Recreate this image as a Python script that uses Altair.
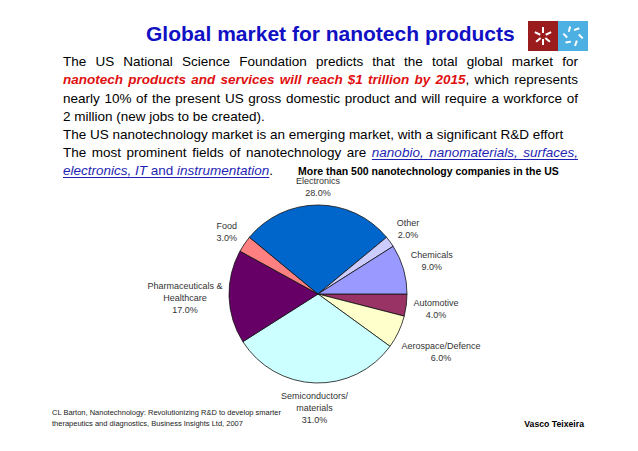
import math
import altair as alt
import pandas as pd

# ---------------- data ----------------
sectors = ["Automotive", "Aerospace/Defence", "Semiconductors/materials",
           "Pharmaceuticals & Healthcare", "Food", "Electronics", "Other", "Chemicals"]
label_names = ["Automotive", "Aerospace/Defence", "Semiconductors/\nmaterials",
               "Pharmaceuticals &\nHealthcare", "Food", "Electronics", "Other", "Chemicals"]
shares = [4.0, 6.0, 31.0, 17.0, 3.0, 28.0, 2.0, 9.0]
sector_colors = ["#993366", "#FFFFCC", "#CCFFFF", "#660066", "#FF8080",
                 "#0066CC", "#CCCCFF", "#9999FF"]

title_text = "Global market for nanotech products"
subnote_text = "More than 500 nanotechnology companies in the US"
source_text = ("CL Barton, Nanotechnology: Revolutionizing R&D to develop smarter\n"
               "therapeutics and diagnostics, Business  Insights Ltd, 2007")
author_text = "Vasco Teixeira"

body_lines = [
    ([("The US National Science Foundation predicts that the total global market for", "normal")], True),
    ([("nanotech products and services will reach $1 trillion by 2015", "red"),
      (", which represents", "normal")], True),
    ([("nearly 10% of the present US gross domestic product and will require a workforce of", "normal")], True),
    ([("2 million (new jobs to be created).", "normal")], False),
    ([("The US nanotechnology market is an emerging market, with a significant R&D effort", "normal")], False),
    ([("The most prominent fields of nanotechnology are ", "normal"),
      ("nanobio, nanomaterials, surfaces,", "link")], True),
    ([("electronics, IT", "link"), (" and ", "linkplain"), ("instrumentation", "link"),
      (".", "normal")], False),
]

# ---------------- helpers (Arial / Liberation Sans metrics) ----------------
FONT = "Liberation Sans"
REG = dict(zip("abcdefghijklmnopqrstuvwxyz",
               [556, 556, 500, 556, 556, 278, 556, 556, 222, 222, 500, 222, 833,
                556, 556, 556, 556, 333, 500, 278, 556, 500, 722, 500, 500, 500]))
REG.update(zip("ABCDEFGHIJKLMNOPQRSTUVWXYZ",
               [667, 667, 722, 722, 667, 611, 778, 722, 278, 500, 667, 556, 833,
                722, 778, 667, 778, 722, 667, 611, 722, 667, 944, 667, 667, 611]))
REG.update({c: 556 for c in "0123456789"})
REG.update({" ": 278, ",": 278, ".": 278, "/": 278, ":": 278, "(": 333, ")": 333,
            "%": 889, "&": 667, "$": 556, "-": 333})
BOLD = dict(zip("abcdefghijklmnopqrstuvwxyz",
                [556, 611, 556, 611, 556, 333, 611, 611, 278, 278, 556, 278, 889,
                 611, 611, 611, 611, 389, 556, 333, 611, 556, 778, 556, 556, 500]))
BOLD.update(zip("ABCDEFGHIJKLMNOPQRSTUVWXYZ",
                [722, 722, 722, 722, 667, 611, 778, 722, 278, 556, 722, 611, 833,
                 722, 778, 667, 778, 722, 667, 611, 722, 667, 944, 667, 667, 611]))
BOLD.update({c: 556 for c in "0123456789"})
BOLD.update({" ": 278, ",": 278, ".": 278, "/": 278, ":": 333, "(": 333, ")": 333,
             "%": 889, "&": 722, "$": 556, "-": 333})


def tw(s, bold, size):
    t = BOLD if bold else REG
    return sum(t.get(ch, 556) for ch in s) * size / 1000.0


STY = {
    "normal": dict(bold=False, italic=False, color="#000000", ul=False),
    "red": dict(bold=True, italic=True, color="#E01010", ul=False),
    "link": dict(bold=False, italic=True, color="#1F1FB4", ul=True),
    "linkplain": dict(bold=False, italic=False, color="#1F1FB4", ul=True),
}

# ---------------- body text layout (justified like the slide) ----------------
BODY_SIZE = 13.5
X0, X1 = 55, 570
LINE_Y = [54, 72, 91, 109, 127, 145, 163]
rows, ul_rows = [], []
for (runs, justify), y in zip(body_lines, LINE_Y):
    words = [[]]
    for text, st in runs:
        parts = text.split(" ")
        for i, p in enumerate(parts):
            if i > 0:
                words.append([])
            if p:
                words[-1].append((p, st))
    words = [w for w in words if w]
    widths = [sum(tw(f, STY[s]["bold"], BODY_SIZE) for f, s in w) for w in words]
    space = tw(" ", False, BODY_SIZE)
    gap = (X1 - X0 - sum(widths)) / (len(words) - 1) if justify else space
    x = X0
    last_ul = False
    for w, wd in zip(words, widths):
        for j, (f, s) in enumerate(w):
            fw = tw(f, STY[s]["bold"], BODY_SIZE)
            rows.append(dict(x=x, y=y, text=f, style=s))
            cur_ul = STY[s]["ul"]
            if cur_ul and last_ul:
                ul_rows[-1]["x2"] = x + fw
            elif cur_ul:
                ul_rows.append(dict(x=x, x2=x + fw, y=y + 6.5))
            last_ul = cur_ul
            x += fw
        x += gap
body_df = pd.DataFrame(rows)
ul_df = pd.DataFrame(ul_rows)


def body_layer(style):
    st = STY[style]
    return alt.Chart(body_df[body_df["style"] == style]).mark_text(
        align="left", baseline="middle", font=FONT, fontSize=BODY_SIZE,
        fontWeight="bold" if st["bold"] else "normal",
        fontStyle="italic" if st["italic"] else "normal",
        color=st["color"],
    ).encode(x=alt.X("x:Q", scale=None), y=alt.Y("y:Q", scale=None), text="text:N")


underlines = alt.Chart(ul_df).mark_rule(color="#1F1FB4", strokeWidth=1).encode(
    x=alt.X("x:Q", scale=None), x2="x2:Q", y=alt.Y("y:Q", scale=None))

# ---------------- pie ----------------
CX, CY, R = 310, 286, 89
LAB_SIZE, LAB_LH, GAP = 9, 12, 6
lab_text, lab_r, lab_n = [], [], []
cum = 0.0
for name, v in zip(label_names, shares):
    mid = math.radians(90 + (cum + v / 2) * 3.6)
    cum += v
    lines = name.split("\n") + [f"{v:.1f}%"]
    halfw = max(tw(l, False, LAB_SIZE) for l in lines) / 2
    halfh = len(lines) * LAB_LH / 2
    lab_r.append(R + GAP + halfw * abs(math.sin(mid)) + halfh * abs(math.cos(mid)))
    lab_text.append("\n".join(lines))
    lab_n.append(len(lines))

pie_df = pd.DataFrame({"sector": sectors, "share": shares, "idx": list(range(len(sectors))),
                       "label": lab_text, "lr": lab_r, "nl": lab_n})
theta_scale = alt.Scale(domain=[0, 100], range=[math.pi / 2, math.pi / 2 + 2 * math.pi])
arcs = alt.Chart(pie_df).mark_arc(outerRadius=R, stroke="#111111", strokeWidth=0.8,
                                  x=CX, y=CY).encode(
    theta=alt.Theta("share:Q", stack=True, scale=theta_scale),
    color=alt.Color("sector:N", scale=alt.Scale(domain=sectors, range=sector_colors), legend=None),
    order=alt.Order("idx:Q"),
)


def label_layer(n):
    # multi-line text is anchored at its first line: shift the block up to centre it
    return alt.Chart(pie_df).transform_window(
        cum_end="sum(share)", sort=[alt.SortField("idx", order="ascending")]
    ).transform_calculate(
        mid="datum.cum_end - datum.share / 2"
    ).transform_filter(
        alt.datum.nl == n
    ).mark_text(
        x=CX, y=CY, dy=-(n - 1) * LAB_LH / 2, font=FONT, fontSize=LAB_SIZE, lineBreak="\n",
        lineHeight=LAB_LH, color="#333333", align="center", baseline="middle",
    ).encode(theta=alt.Theta("mid:Q", stack=None, scale=theta_scale),
             radius=alt.Radius("lr:Q", scale=None), text="label:N")


labels2 = label_layer(2)
labels3 = label_layer(3)

# ---------------- slide furniture ----------------
one = pd.DataFrame({"t": [title_text]})
title = alt.Chart(one).mark_text(align="left", baseline="middle", font=FONT, fontSize=21,
                                 fontWeight="bold", color="#1010C4").encode(
    text="t:N", x=alt.value(138), y=alt.value(27))
subnote = alt.Chart(pd.DataFrame({"t": [subnote_text]})).mark_text(
    align="left", baseline="middle", font=FONT, fontSize=10.5, fontWeight="bold",
    color="#000000").encode(text="t:N", x=alt.value(290), y=alt.value(164))
source = alt.Chart(pd.DataFrame({"t": [source_text]})).mark_text(
    align="left", baseline="middle", font=FONT, fontSize=7.5, lineBreak="\n", lineHeight=11,
    color="#222222").encode(text="t:N", x=alt.value(44), y=alt.value(405))
author = alt.Chart(pd.DataFrame({"t": [author_text]})).mark_text(
    align="right", baseline="middle", font=FONT, fontSize=8.7, fontWeight="bold",
    color="#000000").encode(text="t:N", x=alt.value(576), y=alt.value(416))

dummy = pd.DataFrame({"a": [0]})
logo_red = alt.Chart(dummy).mark_rect(color="#9B1C1C").encode(
    x=alt.value(520), x2=alt.value(550), y=alt.value(13), y2=alt.value(43))
logo_blue = alt.Chart(dummy).mark_rect(color="#4DB0E2").encode(
    x=alt.value(550), x2=alt.value(580), y=alt.value(13), y2=alt.value(43))

# logo glyphs: short white dashes radiating from each square's centre
g_rows = []
for ang in [0, 65, 130, 180, 230, 295]:
    a = math.radians(ang)
    g_rows.append(dict(x=535 + 3 * math.sin(a), y=28 - 3 * math.cos(a),
                       x2=535 + 9 * math.sin(a), y2=28 - 9 * math.cos(a)))
for ang in [10, 75, 140, 200, 255, 315]:
    a = math.radians(ang)
    g_rows.append(dict(x=565 + 6 * math.sin(a), y=28 - 6 * math.cos(a),
                       x2=565 + 10 * math.sin(a + 0.5), y2=28 - 10 * math.cos(a + 0.5)))
glyphs = alt.Chart(pd.DataFrame(g_rows)).mark_rule(color="#FFFFFF", strokeWidth=2).encode(
    x=alt.X("x:Q", scale=None), x2="x2:Q", y=alt.Y("y:Q", scale=None), y2="y2:Q")

chart = alt.layer(
    arcs, labels2, labels3,
    body_layer("normal"), body_layer("red"), body_layer("link"), body_layer("linkplain"),
    underlines, title, subnote, source, author,
    logo_red, logo_blue, glyphs,
).properties(width=622, height=435, padding=0, autosize="none").configure_view(stroke=None)

chart.save("out.html", embed_options={"renderer": "svg", "actions": False})
